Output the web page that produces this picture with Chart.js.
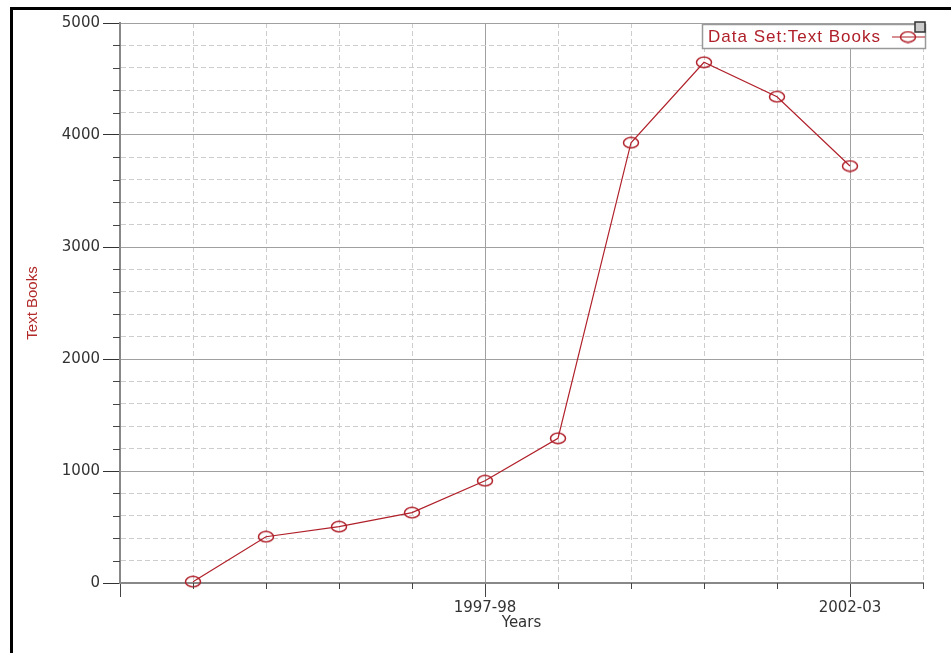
<!DOCTYPE html>
<html>
<head>
<meta charset="utf-8">
<script src="https://cdn.jsdelivr.net/npm/chart.js@4.4.0/dist/chart.umd.min.js"></script>
<style>
body{margin:0;background:#fff;}
#wrap{position:relative;width:951px;height:653px;overflow:hidden;}
#frame{position:absolute;left:10px;top:7px;width:960px;height:660px;border-top:3px solid #000;border-left:3px solid #000;pointer-events:none;}
canvas{position:absolute;left:0;top:0;}
</style>
</head>
<body>
<div id="wrap"><canvas id="myChart" width="951" height="653"></canvas><div id="frame"></div></div>
<script>
var years = ['1993-94','1994-95','1995-96','1996-97','1997-98','1998-99','1999-00','2000-01','2001-02','2002-03'];
var textBooks = [12, 413, 503, 628, 913, 1292, 3931, 4649, 4342, 3723];
var shownYears = ['1997-98','2002-03'];
var yMax = 5000, yStep = 200, yMajor = 1000;

var lineColor = '#b0202a';
var titleColor = '#b22a2a';
var tickFont = {family:'"DejaVu Sans", Verdana, sans-serif', size:15};

function ellipseMark(color){
    var c = document.createElement('canvas');
    c.width = 18; c.height = 13;
    var g = c.getContext('2d');
    g.strokeStyle = color; g.lineWidth = 1.5;
    g.beginPath(); g.ellipse(9, 6.5, 7.5, 5.2, 0, 0, Math.PI*2); g.stroke();
    return c;
}
var marker = ellipseMark(lineColor);

function isMajorX(v){ return v === 0 || shownYears.indexOf(years[v-1]) >= 0; }

// short ticks between the long ones
var minorTicks = {
    id: 'minorTicks',
    afterDraw: function(chart){
        var a = chart.chartArea, g = chart.ctx, xs = chart.scales.x, ys = chart.scales.y;
        g.save();
        g.strokeStyle = '#444'; g.lineWidth = 1;
        g.beginPath();
        ys.ticks.forEach(function(t){
            if (t.value % yMajor !== 0) {
                var p = Math.round(ys.getPixelForValue(t.value)) + 0.5;
                g.moveTo(a.left - 7, p); g.lineTo(a.left, p);
            }
        });
        xs.ticks.forEach(function(t){
            if (!isMajorX(t.value)) {
                var p = Math.round(xs.getPixelForValue(t.value)) + 0.5;
                g.moveTo(p, a.bottom); g.lineTo(p, a.bottom + 6);
            }
        });
        g.stroke();
        g.restore();
    }
};

// boxed legend inside the plot, top right
var legendBox = {
    id: 'legendBox',
    afterDraw: function(chart){
        var a = chart.chartArea, g = chart.ctx, ds = chart.data.datasets[0];
        var w = 223, h = 24, x = a.right - w + 2, y = a.top + 1;
        var cy = y + h/2 + 1;
        g.save();
        g.fillStyle = '#fff'; g.fillRect(x, y, w, h);
        g.strokeStyle = '#999'; g.lineWidth = 1.5; g.strokeRect(x + 0.5, y + 0.5, w, h);
        g.font = '17px "Liberation Sans", Arial, sans-serif';
        g.letterSpacing = '1px';
        g.fillStyle = lineColor; g.textBaseline = 'middle';
        g.fillText('Data Set:' + ds.label, x + 6, cy);
        g.letterSpacing = '0px';
        g.beginPath(); g.moveTo(x + w - 33, cy); g.lineTo(x + w, cy);
        g.strokeStyle = lineColor; g.lineWidth = 1.2; g.stroke();
        g.drawImage(marker, x + w - 26, cy - 6.5);
        g.fillStyle = '#ccc'; g.fillRect(a.right - 8, a.top - 1, 10, 10);
        g.strokeStyle = '#333'; g.lineWidth = 1.5; g.strokeRect(a.right - 8, a.top - 1, 10, 10);
        g.restore();
    }
};

const ctx = document.getElementById('myChart').getContext('2d');
const myChart = new Chart(ctx, {
    type: 'line',
    data: {
        datasets: [{
            label: 'Text Books',
            data: years.map(function(y, i){ return {x: i + 1, y: textBooks[i]}; }),
            borderColor: lineColor,
            borderWidth: 1.2,
            backgroundColor: 'transparent',
            pointStyle: marker,
            pointRadius: 7,
            pointHoverRadius: 7,
            tension: 0,
            clip: false
        }]
    },
    options: {
        responsive: false,
        animation: false,
        devicePixelRatio: 1,
        events: [],
        layout: {padding: {left: 0, top: 23, right: 28, bottom: 0}},
        plugins: {legend: {display: false}, tooltip: {enabled: false}},
        scales: {
            x: {
                type: 'linear',
                min: 0,
                max: years.length + 1,
                afterFit: function(s){ s.height = 70; },
                ticks: {
                    stepSize: 1,
                    autoSkip: false,
                    maxRotation: 0,
                    padding: 2,
                    color: '#333',
                    font: tickFont,
                    callback: function(v){
                        var y = years[v - 1];
                        return shownYears.indexOf(y) >= 0 ? y : '';
                    }
                },
                grid: {
                    color: function(c){ return c.tick && isMajorX(c.tick.value) ? '#a0a0a0' : '#cdcdcd'; },
                    lineWidth: 1,
                    tickLength: 14,
                    tickColor: function(c){ return c.tick && isMajorX(c.tick.value) ? '#444' : 'transparent'; }
                },
                border: {
                    color: '#888',
                    width: 2,
                    dash: function(c){ return c.tick && !isMajorX(c.tick.value) ? [5, 3] : []; }
                },
                title: {
                    display: true,
                    text: 'Years',
                    color: '#333',
                    font: tickFont,
                    padding: {top: 0, bottom: 21}
                }
            },
            y: {
                min: 0,
                max: yMax,
                afterFit: function(s){ s.width = 120; },
                ticks: {
                    stepSize: yStep,
                    autoSkip: false,
                    padding: 3,
                    color: '#333',
                    font: tickFont,
                    callback: function(v){ return v % yMajor === 0 ? v : ''; }
                },
                grid: {
                    color: function(c){ return c.tick && c.tick.value % yMajor === 0 ? '#a0a0a0' : '#cdcdcd'; },
                    lineWidth: 1,
                    tickLength: 17,
                    tickColor: function(c){ return c.tick && c.tick.value % yMajor === 0 ? '#333' : 'transparent'; }
                },
                border: {
                    color: '#888',
                    width: 2,
                    dash: function(c){ return c.tick && c.tick.value % yMajor !== 0 ? [5, 3] : []; }
                },
                title: {
                    display: true,
                    text: 'Text Books',
                    color: titleColor,
                    font: {family: '"Liberation Sans Narrow", "Liberation Sans", Arial, sans-serif', size: 15},
                    padding: {top: 24, bottom: 0}
                }
            }
        }
    },
    plugins: [minorTicks, legendBox]
});
</script>
</body>
</html>
